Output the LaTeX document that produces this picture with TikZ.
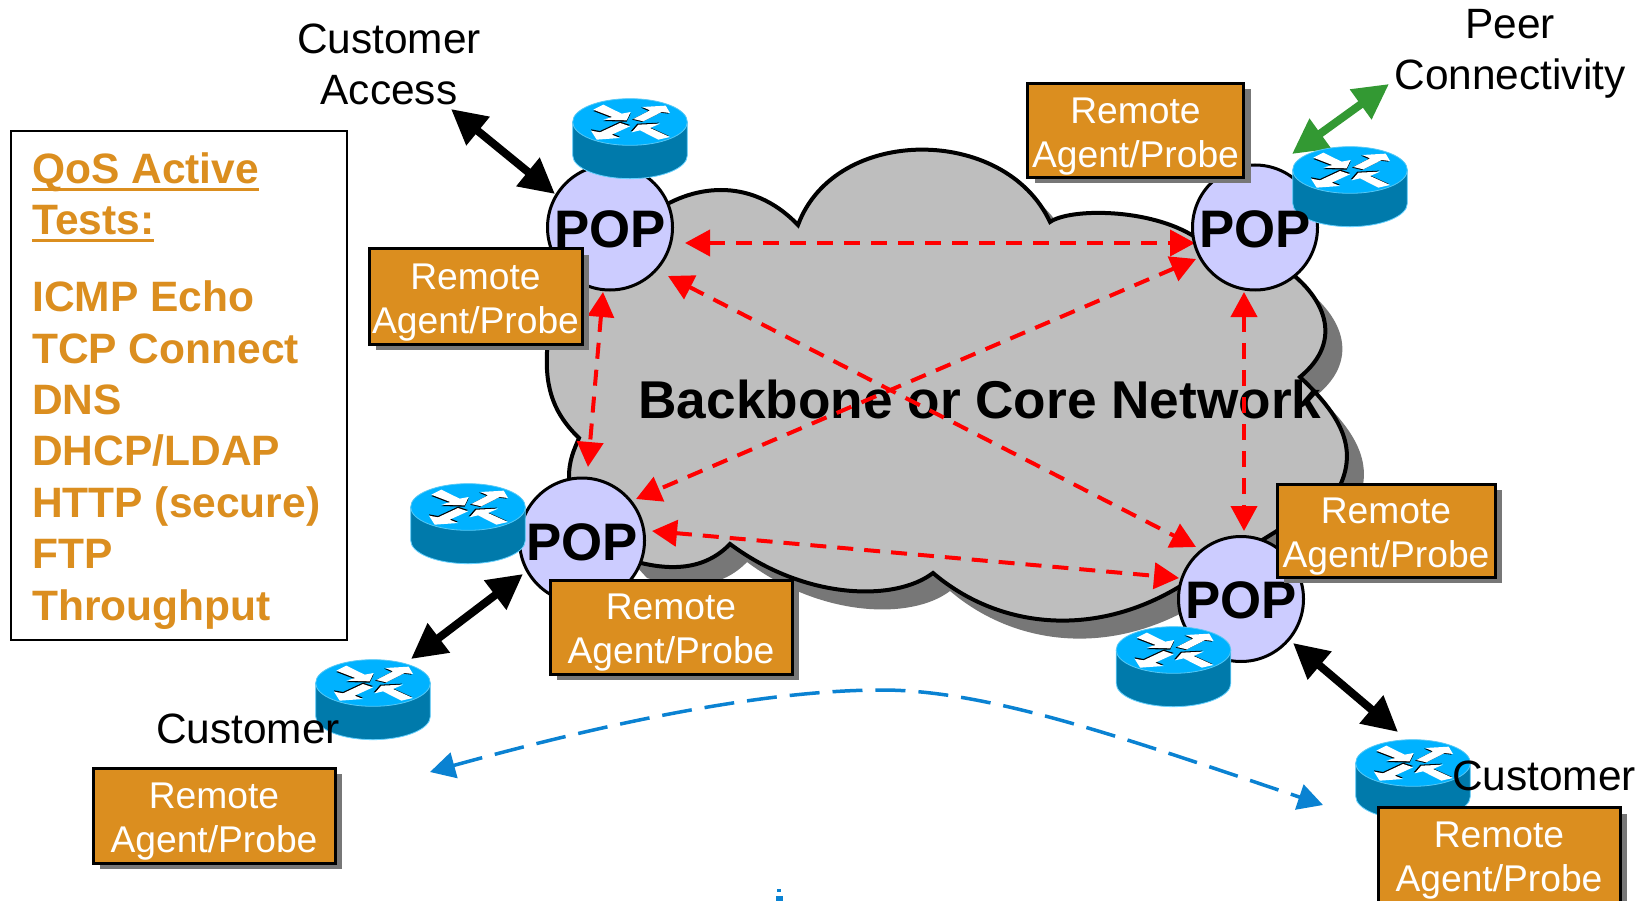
\documentclass[tikz,border=0pt]{standalone}
\usepackage{fontspec}
\setmainfont{Liberation Sans}
\usetikzlibrary{arrows.meta,shadows}
\definecolor{cloudgray}{HTML}{BEBEBE}
\definecolor{shadowgray}{HTML}{777777}
\definecolor{popfill}{HTML}{CCCCFF}
\definecolor{probefill}{HTML}{DB8E1F}
\definecolor{routertop}{HTML}{00B2FF}
\definecolor{routerside}{HTML}{007AAB}
\definecolor{routeredge}{HTML}{55C8F5}
\definecolor{peergreen}{HTML}{339933}
\definecolor{linkblue}{HTML}{0A82D2}
\newcommand{\cloudoutline}{
  (650,215) .. controls (690,185) and (750,175) .. (798,225)
  .. controls (835,125) and (1005,125) .. (1050,222)
  .. controls (1070,208) and (1150,208) .. (1195,237)
  -- (1280,265)
  .. controls (1325,295) and (1345,340) .. (1300,377)
  .. controls (1340,415) and (1362,450) .. (1335,495)
  -- (1230,560) -- (1190,580)
  .. controls (1100,640) and (1000,630) .. (933,573)
  .. controls (895,602) and (805,600) .. (730,544)
  .. controls (705,570) and (670,572) .. (630,560)
  -- (575,500) -- (569,477)
  .. controls (569,460) and (574,450) .. (579,438)
  .. controls (555,415) and (545,390) .. (547,352)
  .. controls (549,320) and (570,290) .. (600,260)
  -- cycle}
\newcommand{\thickul}[1]{\setbox0=\hbox{#1}\rlap{\rule[-7pt]{\wd0}{2.8pt}}\box0}
\newcommand{\probetext}{\rule{0pt}{37pt}Remote\\Agent/Probe}
\tikzset{
  popnode/.style={circle,draw=black,line width=3pt,fill=popfill,minimum size=125pt,inner sep=0pt},
  poplabel/.style={font=\fontsize{52.8}{53}\selectfont\bfseries,inner sep=0pt},
  probe/.style={rectangle,draw=black,line width=3pt,fill=probefill,text=white,inner sep=0pt,
    align=center,font=\fontsize{37.2}{44}\selectfont,
    general shadow={fill=shadowgray,shadow xshift=7pt,shadow yshift=-6pt}},
  blacklabel/.style={align=center,inner sep=0pt,font=\fontsize{42.4}{51}\selectfont},
  qos/.style={anchor=base west,inner sep=0pt,text=probefill,font=\fontsize{42.5}{51}\selectfont\bfseries},
  access/.style={line width=8pt,{Triangle[length=35pt,width=35pt]}-{Triangle[length=35pt,width=35pt]}},
  probelink/.style={red,line width=4pt,dash pattern=on 16pt off 11pt,
    {Triangle[length=25pt,width=26pt]}-{Triangle[length=25pt,width=26pt]}},
  router/.pic={
    \begin{scope}[x=0.3333pt,y=-0.3333pt]
      \fill[routerside] (-172,0) -- (-172,100) arc[start angle=180,end angle=360,x radius=172,y radius=-70] -- (172,0) -- cycle;
      \draw[routertop!60!white,line width=0.8pt] (-172,0) -- (-172,100) arc[start angle=180,end angle=360,x radius=172,y radius=-70] -- (172,0);
      \fill[routertop] (0,0) ellipse[x radius=172,y radius=70];
      \draw[routeredge,line width=0.8pt] (0,0) ellipse[x radius=172,y radius=70];
      \begin{scope}[shift={(0,4)}]
        \fill[black] (-110,-37) -- (-80,-52) -- (-25,-25) -- (2,-30) -- (-10,-5) -- (-80,-7) -- (-53,-15) -- cycle;
      \end{scope}
      \begin{scope}[shift={(-4,2)}]
        \fill[black] (10,-9) -- (60,-35) -- (37,-45) -- (107,-49) -- (120,-27) -- (95,-30) -- (40,-2) -- cycle;
      \end{scope}
      \begin{scope}[shift={(0,-4)}]
        \fill[black] (-30,3) -- (-90,31) -- (-117,26) -- (-100,53) -- (-30,48) -- (-55,38) -- (0,13) -- cycle;
      \end{scope}
      \begin{scope}[shift={(-3,-3)}]
        \fill[black] (5,31) -- (25,8) -- (90,5) -- (60,18) -- (120,45) -- (85,53) -- (30,25) -- cycle;
      \end{scope}
      \fill[white] (-110,-37) -- (-80,-52) -- (-25,-25) -- (2,-30) -- (-10,-5) -- (-80,-7) -- (-53,-15) -- cycle;
      \fill[white] (10,-9) -- (60,-35) -- (37,-45) -- (107,-49) -- (120,-27) -- (95,-30) -- (40,-2) -- cycle;
      \fill[white] (-30,3) -- (-90,31) -- (-117,26) -- (-100,53) -- (-30,48) -- (-55,38) -- (0,13) -- cycle;
      \fill[white] (5,31) -- (25,8) -- (90,5) -- (60,18) -- (120,45) -- (85,53) -- (30,25) -- cycle;
    \end{scope}
  }
}
\begin{document}
\begin{tikzpicture}[x=1pt,y=-1pt]
\useasboundingbox (0,0) rectangle (1646,901);
\clip (0,0) rectangle (1646,901);
\fill[white] (0,0) rectangle (1646,901);

% cloud
\fill[shadowgray,shift={(17,18)}] \cloudoutline;
\draw[fill=cloudgray,line width=4pt,miter limit=10] \cloudoutline;
\node[inner sep=0pt,font=\fontsize{53.2}{53}\selectfont\bfseries] (core) at (980,399) {Backbone or Core Network};

% link end points
\coordinate (e1a) at (685,243); \coordinate (e1b) at (1195,243);
\coordinate (e2a) at (668,276); \coordinate (e2b) at (1196,547);
\coordinate (e3a) at (1196,259); \coordinate (e3b) at (636,499);
\coordinate (e4a) at (603,292); \coordinate (e4b) at (588,467);
\coordinate (e5a) at (1244,292); \coordinate (e5b) at (1244,531);
\coordinate (e6a) at (652,531); \coordinate (e6b) at (1179,578);
\coordinate (c1a) at (451,109); \coordinate (c1b) at (555,194);
\coordinate (c2a) at (1389,84); \coordinate (c2b) at (1292,154);
\coordinate (c3a) at (523,574); \coordinate (c3b) at (411,659);
\coordinate (c4a) at (1293,643); \coordinate (c4b) at (1398,732);
\coordinate (b1) at (430,772); \coordinate (b2) at (1323,805); \coordinate (bm) at (882,690);

% probe-to-probe links
\draw[probelink] (e1a) -- (e1b);
\draw[probelink] (e2a) -- (e2b);
\draw[probelink] (e3a) -- (e3b);
\draw[probelink] (e4a) -- (e4b);
\draw[probelink] (e5a) -- (e5b);
\draw[probelink] (e6a) -- (e6b);

% POP circles
\node[popnode] (pop1) at (610,227.5) {};
\node[popnode] (pop2) at (1255,227.5) {};
\node[popnode] (pop3) at (582,540.5) {};
\node[popnode] (pop4) at (1241,599) {};

% access links
\draw[access] (c1a) -- (c1b);
\draw[access,peergreen] (c2a) -- (c2b);
\draw[access] (c3a) -- (c3b);
\draw[access] (c4a) -- (c4b);

% routers
\pic at (630,122) {router};
\pic at (1350,170) {router};
\pic at (468,507) {router};
\pic at (1173.5,650) {router};
\pic at (373,683) {router};
\pic at (1413,763) {router};

% POP labels
\node[poplabel] (lab1) at ([yshift=-1.5pt]pop1.center) {POP};
\node[poplabel] (lab2) at ([yshift=-1.5pt]pop2.center) {POP};
\node[poplabel] (lab3) at ([yshift=-1.5pt]pop3.center) {POP};
\node[poplabel] (lab4) at ([yshift=-1.5pt]pop4.center) {POP};

% end-to-end link
\draw[linkblue,line width=3.5pt,dash pattern=on 30pt off 13pt,
  {Triangle[length=25pt,width=26pt]}-{Triangle[length=25pt,width=26pt]}]
  (b1) .. controls (600,725) and (760,690) .. (bm)
  .. controls (990,690) and (1130,740) .. (b2);

% black labels
\node[blacklabel] (access) at (389,64.5) {Customer\\Access};
\node[blacklabel] (peer) at (1510,54) {Peer\\Connectivity};
\node[blacklabel] (custl) at (248,729) {Customer};
\node[blacklabel] (custr) at (1544,776) {Customer};

% probes
\node[probe,minimum width=216pt,minimum height=94pt] (p1) at (1135.5,130.5) {\probetext};
\node[probe,minimum width=213pt,minimum height=95pt] (p2) at (475.5,296.5) {\probetext};
\node[probe,minimum width=242pt,minimum height=94pt] (p3) at (671,627) {\probetext};
\node[probe,minimum width=218pt,minimum height=93pt] (p4) at (1386,530.5) {\probetext};
\node[probe,minimum width=242pt,minimum height=95pt] (p5) at (214,815.5) {\probetext};
\node[probe,minimum width=242pt,minimum height=95pt] (p6) at (1499,855) {\probetext};

% legend
\node[draw=black,line width=1.5pt,fill=white,minimum width=336pt,minimum height=509pt,inner sep=0pt] (legend) at (179,385.5) {};
\node[qos] (q1) at (32,184) {\thickul{QoS Active}};
\node[qos] (q2) at (32,235) {\thickul{Tests:}};
\node[qos] (q3) at (32,312) {ICMP Echo};
\node[qos] (q4) at (32,363) {TCP Connect};
\node[qos] (q5) at (32,414.5) {DNS};
\node[qos] (q6) at (32,465.5) {DHCP/LDAP};
\node[qos] (q7) at (32,517) {HTTP (secure)};
\node[qos] (q8) at (32,568.5) {FTP};
\node[qos] (q9) at (32,620) {Throughput};

% stray marks at the lower edge
\fill[linkblue] (777,889) rectangle (781,892);
\fill[linkblue] (776,896) rectangle (783,901);
\end{tikzpicture}
\end{document}
